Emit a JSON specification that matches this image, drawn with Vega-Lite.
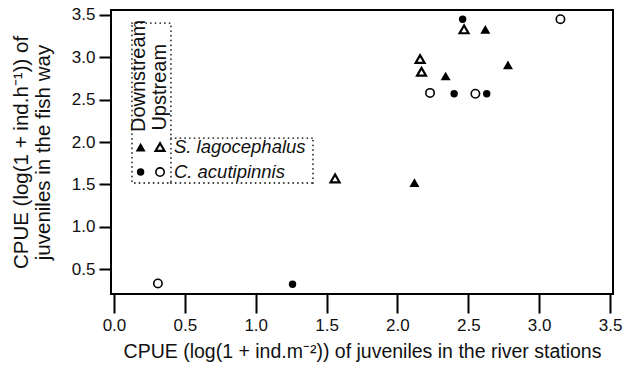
{
  "$schema": "https://vega.github.io/schema/vega-lite/v6.json",
  "width": 502,
  "height": 284,
  "autosize": {"type": "none"},
  "padding": {"left": 111, "top": 10, "right": 11, "bottom": 75},
  "background": "white",
  "config": {
    "view": {"stroke": "black", "strokeWidth": 2},
    "font": "Liberation Sans",
    "axis": {
      "domain": false,
      "grid": false,
      "tickColor": "black",
      "tickWidth": 2,
      "labelColor": "#111",
      "titleColor": "#111",
      "labelFont": "Liberation Sans",
      "titleFont": "Liberation Sans",
      "titleFontWeight": "normal",
      "labelFontSize": 17,
      "titleFontSize": 19.5
    }
  },
  "datasets": {
    "cpue": [
      {"species": "S. lagocephalus", "station": "Downstream", "river": 2.62, "fishway": 3.33},
      {"species": "S. lagocephalus", "station": "Downstream", "river": 2.34, "fishway": 2.78},
      {"species": "S. lagocephalus", "station": "Downstream", "river": 2.78, "fishway": 2.91},
      {"species": "S. lagocephalus", "station": "Downstream", "river": 2.12, "fishway": 1.52},
      {"species": "S. lagocephalus", "station": "Upstream", "river": 2.47, "fishway": 3.33},
      {"species": "S. lagocephalus", "station": "Upstream", "river": 2.16, "fishway": 2.98},
      {"species": "S. lagocephalus", "station": "Upstream", "river": 2.17, "fishway": 2.83},
      {"species": "S. lagocephalus", "station": "Upstream", "river": 1.56, "fishway": 1.57},
      {"species": "C. acutipinnis", "station": "Downstream", "river": 2.46, "fishway": 3.45},
      {"species": "C. acutipinnis", "station": "Downstream", "river": 2.4, "fishway": 2.57},
      {"species": "C. acutipinnis", "station": "Downstream", "river": 2.63, "fishway": 2.57},
      {"species": "C. acutipinnis", "station": "Downstream", "river": 1.26, "fishway": 0.32},
      {"species": "C. acutipinnis", "station": "Upstream", "river": 3.15, "fishway": 3.45},
      {"species": "C. acutipinnis", "station": "Upstream", "river": 2.23, "fishway": 2.58},
      {"species": "C. acutipinnis", "station": "Upstream", "river": 2.55, "fishway": 2.57},
      {"species": "C. acutipinnis", "station": "Upstream", "river": 0.31, "fishway": 0.33}
    ],
    "key": [{"item": "key"}]
  },
  "layer": [
    {
      "data": {"name": "cpue"},
      "encoding": {
        "x": {
          "field": "river",
          "type": "quantitative",
          "scale": {"domain": [-0.021, 3.521], "nice": false, "zero": false},
          "axis": {
            "values": [0, 0.5, 1, 1.5, 2, 2.5, 3, 3.5],
            "format": ".1f",
            "tickSize": 19,
            "labelPadding": 4,
            "labelFlush": false,
            "titlePadding": 9,
            "title": "CPUE (log(1 + ind.m⁻²)) of juveniles in the river stations"
          }
        },
        "y": {
          "field": "fishway",
          "type": "quantitative",
          "scale": {"domain": [0.205, 3.559], "nice": false, "zero": false},
          "axis": {
            "values": [0.5, 1, 1.5, 2, 2.5, 3, 3.5],
            "format": ".1f",
            "tickSize": 12,
            "labelPadding": 4,
            "labelFlush": false,
            "titlePadding": 18,
            "titleFontSize": 20.5,
            "titleLineHeight": 22,
            "title": ["CPUE (log(1 + ind.h⁻¹)) of", "juveniles in the fish way"]
          }
        }
      },
      "layer": [
        {
          "transform": [{"filter": "datum.species === 'S. lagocephalus' && datum.station === 'Downstream'"}],
          "mark": {"type": "point", "shape": "triangle-up", "filled": true, "color": "black", "size": 100, "opacity": 1}
        },
        {
          "transform": [{"filter": "datum.species === 'S. lagocephalus' && datum.station === 'Upstream'"}],
          "mark": {"type": "point", "shape": "triangle-up", "filled": false, "stroke": "black", "fill": "white", "strokeWidth": 2.2, "size": 80, "opacity": 1}
        },
        {
          "transform": [{"filter": "datum.species === 'C. acutipinnis' && datum.station === 'Downstream'"}],
          "mark": {"type": "point", "shape": "circle", "filled": true, "color": "black", "size": 55, "opacity": 1}
        },
        {
          "transform": [{"filter": "datum.species === 'C. acutipinnis' && datum.station === 'Upstream'"}],
          "mark": {"type": "point", "shape": "circle", "filled": false, "stroke": "black", "fill": "white", "strokeWidth": 1.6, "size": 70, "opacity": 1}
        }
      ]
    },
    {
      "data": {"name": "key"},
      "layer": [
        {
          "mark": {"type": "rect", "fill": "transparent", "stroke": "#333", "strokeWidth": 1.8, "strokeDash": [0.1, 4.6], "strokeCap": "round"},
          "encoding": {"x": {"datum": 0.127}, "x2": {"datum": 0.402}, "y": {"datum": 1.516}, "y2": {"datum": 3.405}}
        },
        {
          "mark": {"type": "rule", "stroke": "#333", "strokeWidth": 1.8, "strokeDash": [0.1, 4.6], "strokeCap": "round"},
          "encoding": {"x": {"datum": 0.402}, "x2": {"datum": 1.404}, "y": {"datum": 2.047}}
        },
        {
          "mark": {"type": "rule", "stroke": "#333", "strokeWidth": 1.8, "strokeDash": [0.1, 4.6], "strokeCap": "round"},
          "encoding": {"x": {"datum": 0.402}, "x2": {"datum": 1.404}, "y": {"datum": 1.516}}
        },
        {
          "mark": {"type": "rule", "stroke": "#333", "strokeWidth": 1.8, "strokeDash": [0.1, 4.6], "strokeCap": "round"},
          "encoding": {"x": {"datum": 1.404}, "y": {"datum": 1.516}, "y2": {"datum": 2.047}}
        },
        {
          "mark": {"type": "text", "angle": 270, "align": "left", "baseline": "middle", "fontSize": 20, "color": "#111"},
          "encoding": {"x": {"datum": 0.176}, "y": {"datum": 2.118}, "text": {"value": "Downstream"}}
        },
        {
          "mark": {"type": "text", "angle": 270, "align": "left", "baseline": "middle", "fontSize": 20, "color": "#111"},
          "encoding": {"x": {"datum": 0.328}, "y": {"datum": 2.135}, "text": {"value": "Upstream"}}
        },
        {
          "mark": {"type": "text", "align": "left", "baseline": "middle", "fontSize": 18.5, "fontStyle": "italic", "color": "#111"},
          "encoding": {"x": {"datum": 0.423}, "y": {"datum": 1.94}, "text": {"value": "S. lagocephalus"}}
        },
        {
          "mark": {"type": "text", "align": "left", "baseline": "middle", "fontSize": 18.5, "fontStyle": "italic", "color": "#111"},
          "encoding": {"x": {"datum": 0.423}, "y": {"datum": 1.645}, "text": {"value": "C. acutipinnis"}}
        },
        {
          "mark": {"type": "point", "shape": "triangle-up", "filled": true, "color": "black", "size": 100, "opacity": 1},
          "encoding": {"x": {"datum": 0.188}, "y": {"datum": 1.94}}
        },
        {
          "mark": {"type": "point", "shape": "triangle-up", "filled": false, "stroke": "black", "fill": "white", "strokeWidth": 2.2, "size": 80, "opacity": 1},
          "encoding": {"x": {"datum": 0.325}, "y": {"datum": 1.94}}
        },
        {
          "mark": {"type": "point", "shape": "circle", "filled": true, "color": "black", "size": 55, "opacity": 1},
          "encoding": {"x": {"datum": 0.188}, "y": {"datum": 1.645}}
        },
        {
          "mark": {"type": "point", "shape": "circle", "filled": false, "stroke": "black", "fill": "white", "strokeWidth": 1.6, "size": 70, "opacity": 1},
          "encoding": {"x": {"datum": 0.325}, "y": {"datum": 1.645}}
        }
      ]
    }
  ]
}
